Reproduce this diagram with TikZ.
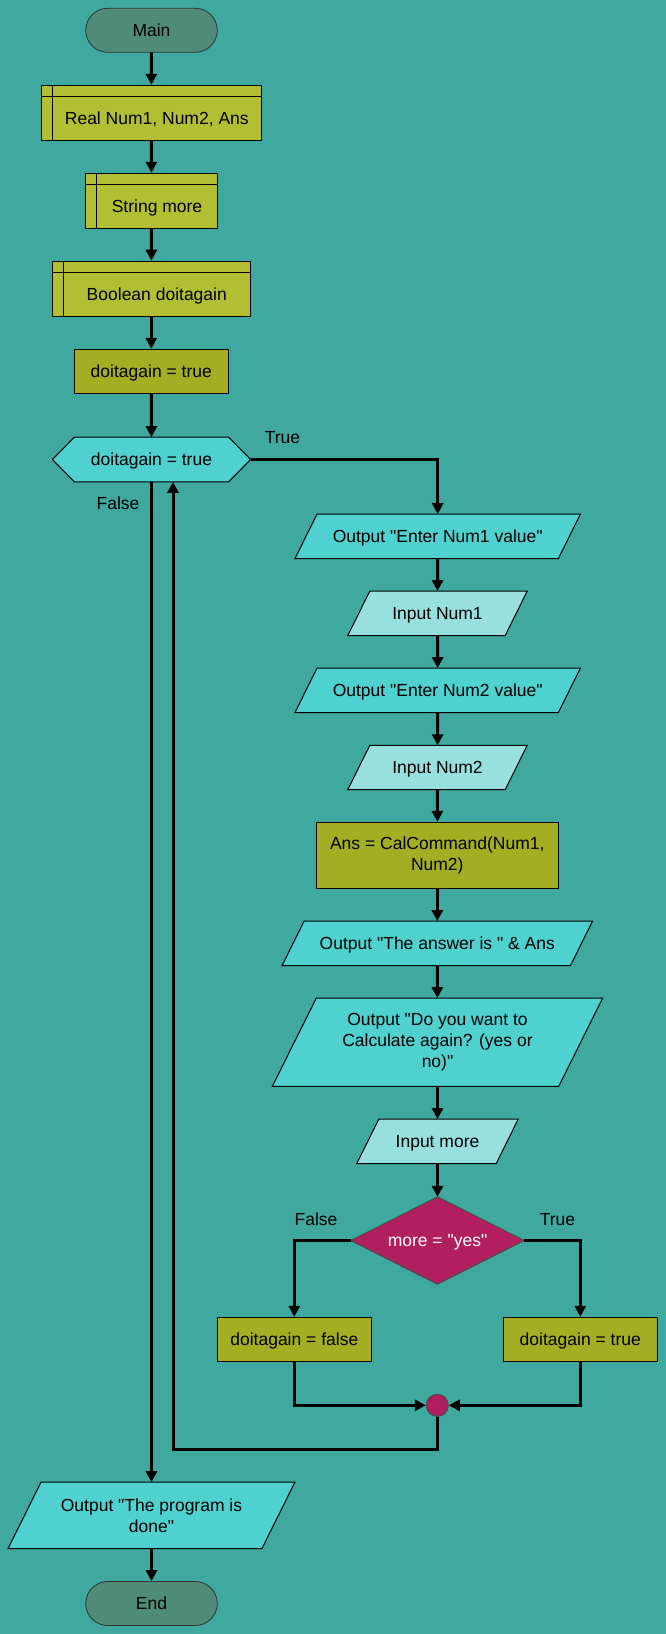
\documentclass[tikz,border=0pt]{standalone}
\usepackage{fontspec}
\setmainfont{Liberation Sans}
\usetikzlibrary{arrows.meta,calc}
\pgfdeclarelayer{bg}
\pgfdeclarelayer{shp}
\pgfsetlayers{bg,shp,main}
\definecolor{bgc}{HTML}{3FA9A0}
\definecolor{termc}{HTML}{4F8C77}
\definecolor{declc}{HTML}{B2BF33}
\definecolor{assignc}{HTML}{A3AE22}
\definecolor{outc}{HTML}{4FD1D0}
\definecolor{inc}{HTML}{98E0DF}
\definecolor{decc}{HTML}{B21F5F}
\newcommand{\dq}{\textquotedbl}
\tikzset{
  base/.style={inner sep=0pt, align=center, font=\fontsize{17.5}{21}\selectfont, text=black},
  one/.style={text height=15.8pt, text depth=3.7pt},
  term/.style={base, one, draw=black!80, line width=0.8pt, fill=termc, rounded corners=22pt},
  decl/.style={base, draw=black, line width=1pt, fill=declc,
    path picture={
      \draw[line width=1pt] ([xshift=11pt]path picture bounding box.north west) -- ([xshift=11pt]path picture bounding box.south west);
      \draw[line width=1pt] ([yshift=-11pt]path picture bounding box.north west) -- ([yshift=-11pt]path picture bounding box.north east);
    }},
  assign/.style={base, draw=black, line width=1pt, fill=assignc},
  textonly/.style={base},
  lab/.style={base, one},
  flow/.style={line width=3pt, -{Triangle[length=11pt,width=11pt]}},
  plain/.style={line width=3pt}
}
\newcommand{\iopara}[3]{%
  \begin{pgfonlayer}{shp}
  \filldraw[fill=#3, draw=black, line width=1pt]
    ($(#1.south west)+(-#2/2,0)$) -- ($(#1.south east)+(-#2/2,0)$) --
    ($(#1.north east)+(#2/2,0)$) -- ($(#1.north west)+(#2/2,0)$) -- cycle;
  \end{pgfonlayer}}
\newcommand{\hexshape}[2]{%
  \begin{pgfonlayer}{shp}
  \filldraw[fill=outc, draw=black, line width=1pt]
    (#1.west) -- ($(#1.north west)+(#2,0)$) -- ($(#1.north east)+(-#2,0)$) --
    (#1.east) -- ($(#1.south east)+(-#2,0)$) -- ($(#1.south west)+(#2,0)$) -- cycle;
  \end{pgfonlayer}}
\newcommand{\diashape}[1]{%
  \begin{pgfonlayer}{shp}
  \filldraw[fill=decc, draw=black!70, line width=1pt]
    (#1.north) -- (#1.east) -- (#1.south) -- (#1.west) -- cycle;
  \end{pgfonlayer}}
\begin{document}
\begin{tikzpicture}[x=1pt,y=-1pt]
\begin{pgfonlayer}{bg}
\fill[bgc] (0,0) rectangle (666,1634);
\end{pgfonlayer}
\useasboundingbox (0,0) rectangle (666,1634);

% left column
\node[term, minimum width=131.6pt, minimum height=44pt] (main) at (151.5,30.3) {Main};
\node[decl, minimum width=220pt, minimum height=55pt,
  label={[base,one,xshift=5.5pt,yshift=-5.5pt]center:{Real Num1, Num2, Ans}}] (real) at (151.3,112.8) {};
\node[decl, minimum width=131.6pt, minimum height=55pt,
  label={[base,one,xshift=5.5pt,yshift=-5.5pt]center:{String more}}] (str) at (151.5,200.8) {};
\node[decl, minimum width=198pt, minimum height=55pt,
  label={[base,one,xshift=5.5pt,yshift=-5.5pt]center:{Boolean doitagain}}] (bool) at (151.3,288.7) {};
\node[assign, one, minimum width=154pt, minimum height=44pt] (init) at (151.3,371.3) {doitagain = true};
\node[textonly, one, minimum width=197.7pt, minimum height=44.3pt] (loop) at (151.5,459.5) {doitagain = true};
\hexshape{loop}{22}
\node[textonly, minimum width=253.5pt, minimum height=66pt] (done) at (151.5,1515.3) {Output \dq The program is\\done\dq};
\iopara{done}{33}{outc}
\node[term, minimum width=131.6pt, minimum height=44pt] (end) at (151.5,1603.5) {End};

% right column
\node[textonly, one, minimum width=263pt, minimum height=44pt] (o1) at (437.7,536.3) {Output \dq Enter Num1 value\dq};
\iopara{o1}{22}{outc}
\node[textonly, one, minimum width=157pt, minimum height=44pt] (i1) at (437.5,613.3) {Input Num1};
\iopara{i1}{22}{inc}
\node[textonly, one, minimum width=263pt, minimum height=44pt] (o2) at (437.7,690.3) {Output \dq Enter Num2 value\dq};
\iopara{o2}{22}{outc}
\node[textonly, one, minimum width=157pt, minimum height=44pt] (i2) at (437.5,767.5) {Input Num2};
\iopara{i2}{22}{inc}
\node[assign, minimum width=242pt, minimum height=66pt] (ans) at (437.3,855.3) {Ans = CalCommand(Num1,\\Num2)};
\node[textonly, one, minimum width=288pt, minimum height=44pt] (o3) at (437.3,943.3) {Output \dq The answer is \dq\ \& Ans};
\iopara{o3}{22}{outc}
\node[textonly, minimum width=286pt, minimum height=88pt] (o4) at (437.5,1042.2) {Output \dq Do you want to\\Calculate again? (yes or\\no)\dq};
\iopara{o4}{44}{outc}
\node[textonly, one, minimum width=139pt, minimum height=44pt] (i3) at (437.5,1141.3) {Input more};
\iopara{i3}{22}{inc}
\node[textonly, one, text=white, minimum width=173pt, minimum height=87pt] (dia) at (437.5,1240.5) {more = \dq yes\dq};
\diashape{dia}
\node[assign, one, minimum width=154pt, minimum height=44pt] (af) at (294.3,1339.3) {doitagain = false};
\node[assign, one, minimum width=154pt, minimum height=44pt] (at) at (580.3,1339.3) {doitagain = true};
\node[circle, draw=black!70, line width=1pt, fill=decc, minimum size=22pt, inner sep=0pt] (join) at (437.3,1405.3) {};
\coordinate (retc) at (173,1449.3);

% labels
\node[lab] (ltrue) at (282.5,437.7) {True};
\node[lab] (lfalse) at (118,503.3) {False};
\node[lab] (lf2) at (316,1219) {False};
\node[lab] (lt2) at (557.5,1219) {True};

% connectors
\draw[flow] (main) -- (real);
\draw[flow] (real) -- (str);
\draw[flow] (str) -- (bool);
\draw[flow] (bool) -- (init);
\draw[flow] (init) -- (loop);
\draw[flow] (loop.east) -| (o1.north);
\draw[flow] (loop.south) -- (done.north);
\draw[flow] (o1) -- (i1);
\draw[flow] (i1) -- (o2);
\draw[flow] (o2) -- (i2);
\draw[flow] (i2) -- (ans);
\draw[flow] (ans) -- (o3);
\draw[flow] (o3) -- (o4);
\draw[flow] (o4) -- (i3);
\draw[flow] (i3) -- (dia);
\draw[flow] (dia.west) -| (af.north);
\draw[flow] (dia.east) -| (at.north);
\draw[flow] (af.south) |- (join.west);
\draw[flow] (at.south) |- (join.east);
\draw[flow] (join.south) |- (retc) -- (retc |- loop.south);
\draw[flow] (done.south) -- (end.north);
\end{tikzpicture}
\end{document}
